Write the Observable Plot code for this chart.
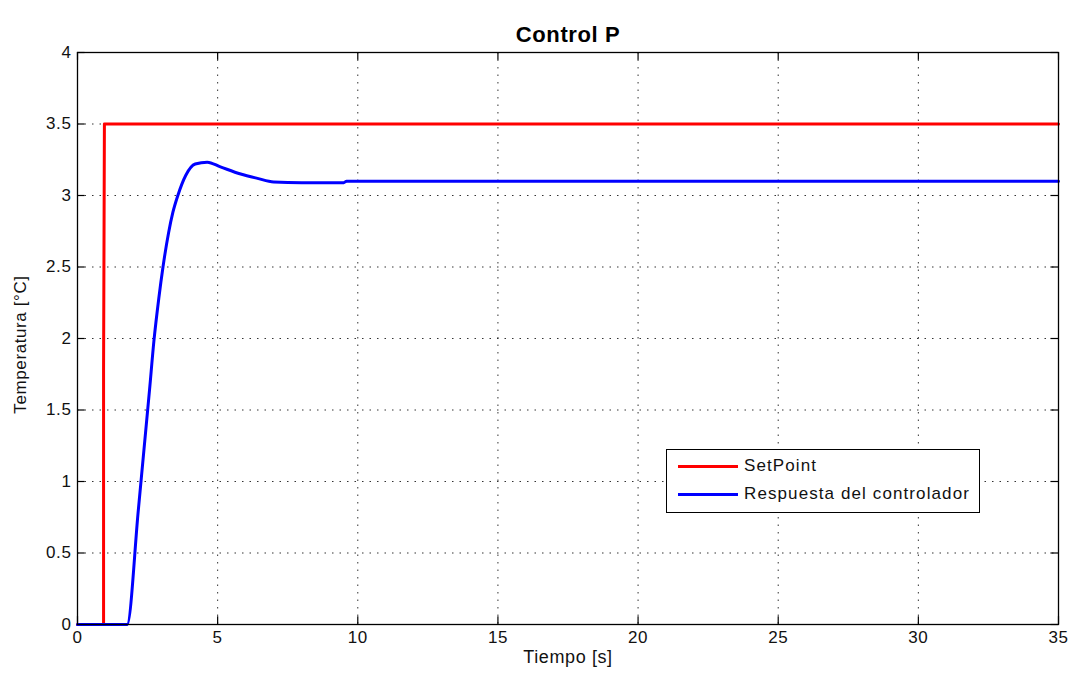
<!DOCTYPE html>
<html>
<head>
<meta charset="utf-8">
<script src="https://cdn.jsdelivr.net/npm/d3@7"></script>
<script src="https://cdn.jsdelivr.net/npm/@observablehq/plot@0.6"></script>
<style>
  html, body { margin: 0; padding: 0; background: #fff; }
  #wrap { position: relative; width: 1072px; height: 680px; font-family: "Liberation Sans", Arial, sans-serif; }
  #legend { position: absolute; left: 666px; top: 449px; width: 312px; height: 62px; border: 1px solid #000; background: #fff; font-size: 17px; letter-spacing: 1.1px; color: #111; }
  .row { position: absolute; left: 11px; display: flex; align-items: center; line-height: 20px; }
  .sw { width: 60px; height: 0; border-top: 3px solid; margin-right: 6px; }
  svg text { letter-spacing: 0.6px; }
</style>
</head>
<body>
<div id="wrap"></div>
<script>
// Data
const title = "Control P";
const xLabel = "Tiempo [s]";
const yLabel = "Temperatura [°C]";
const seriesNames = ["SetPoint", "Respuesta del controlador"];
const seriesColors = ["#ff0000", "#0000ff"];
const xTicks = [0, 5, 10, 15, 20, 25, 30, 35];
const yTicks = [0, 0.5, 1, 1.5, 2, 2.5, 3, 3.5, 4];

const setpointT = [0, 0.93, 0.93, 0.96, 35];
const setpointV = [0, 0, 1.78, 3.5, 3.5];

const respT = [0, 1.77, 2.17, 2.57, 2.73, 2.9, 3.05, 3.25, 3.4, 3.58, 3.86, 4.2, 4.63, 5.1, 5.82, 6.42, 7.0, 8.0, 9.5, 9.6, 35];
const respV = [0, 0, 0.80, 1.64, 1.99, 2.28, 2.50, 2.74, 2.88, 3.0, 3.14, 3.22, 3.233, 3.20, 3.15, 3.12, 3.095, 3.09, 3.09, 3.1, 3.1];

const sp = setpointT.map((t, i) => ({t, v: setpointV[i]}));
const rs = respT.map((t, i) => ({t, v: respV[i]}));

const fmt = d => String(d);

const chart = Plot.plot({
  width: 1072,
  height: 680,
  marginLeft: 77,
  marginRight: 14,
  marginTop: 52,
  marginBottom: 56,
  style: { fontFamily: "Liberation Sans, Arial, sans-serif", fontSize: "17px", color: "#111", background: "#fff" },
  x: { domain: [0, 35], ticks: xTicks },
  y: { domain: [0, 4], ticks: yTicks },
  marks: [
    Plot.gridX(xTicks, { stroke: "#000", strokeOpacity: 0.8, strokeDasharray: "1.5,6" }),
    Plot.gridY(yTicks, { stroke: "#000", strokeOpacity: 0.8, strokeDasharray: "1.5,6" }),
    Plot.axisX(xTicks, { anchor: "bottom", tickSize: 0, tickPadding: 6, tickFormat: fmt, label: null, fontSize: 17 }),
    Plot.axisY(yTicks, { anchor: "left", tickSize: 0, tickPadding: 6, tickFormat: fmt, label: null, fontSize: 17 }),
    Plot.ruleX(xTicks, { x: d => d, y1: 0, y2: 0.055, stroke: "#000", strokeWidth: 1.2 }),
    Plot.ruleX(xTicks, { x: d => d, y1: 3.945, y2: 4, stroke: "#000", strokeWidth: 1.2 }),
    Plot.ruleY(yTicks, { y: d => d, x1: 0, x2: 0.27, stroke: "#000", strokeWidth: 1.2 }),
    Plot.ruleY(yTicks, { y: d => d, x1: 34.73, x2: 35, stroke: "#000", strokeWidth: 1.2 }),
    Plot.line(sp, { x: "t", y: "v", stroke: seriesColors[0], strokeWidth: 3 }),
    Plot.line(rs, { x: "t", y: "v", stroke: seriesColors[1], strokeWidth: 3, curve: "monotone-x" }),
    Plot.frame({ stroke: "#000", strokeWidth: 1.3 }),
    Plot.text([title], { frameAnchor: "top", dy: -26, fontSize: 22, fontWeight: "bold", fill: "#000" }),
    Plot.text([xLabel], { frameAnchor: "bottom", dy: 38, fontSize: 18, fill: "#111", style: "letter-spacing:1px" }),
    Plot.text([yLabel], { frameAnchor: "left", textAnchor: "middle", dx: -57, dy: 6, rotate: -90, fontSize: 17, fill: "#111" })
  ]
});

const wrap = document.getElementById("wrap");
wrap.appendChild(chart);

const legend = document.createElement("div");
legend.id = "legend";
seriesNames.forEach((name, i) => {
  const row = document.createElement("div");
  row.className = "row";
  row.style.top = (i === 0 ? 6 : 34) + "px";
  const sw = document.createElement("span");
  sw.className = "sw";
  sw.style.borderTopColor = seriesColors[i];
  const label = document.createElement("span");
  label.textContent = name;
  row.appendChild(sw);
  row.appendChild(label);
  legend.appendChild(row);
});
wrap.appendChild(legend);
</script>
</body>
</html>
